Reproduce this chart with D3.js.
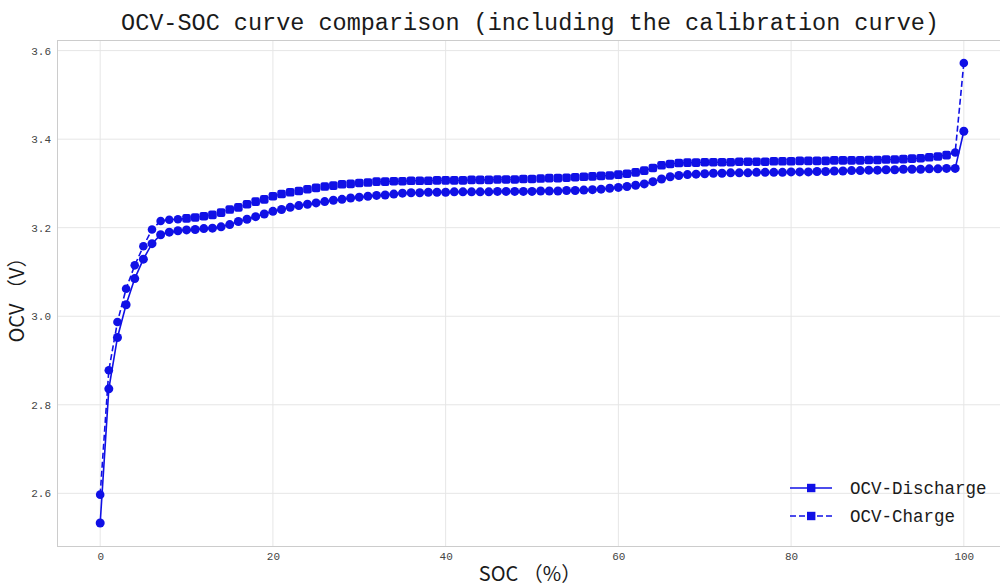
<html>
<head>
	<meta charset="utf-8">
	<title>OCV-SOC curve comparison</title>
</head>

<style>
body{ margin:0; background:#fff; }
.grid line{ stroke:#e6e6e6; stroke-width:1px; }
.spine{ fill:none; stroke:#cccccc; stroke-width:1px; }
.tick text{ font-family:"Liberation Mono","DejaVu Sans Mono",monospace; font-size:11px; fill:#444; }
.title{ font-family:"Liberation Mono","DejaVu Sans Mono",monospace; font-size:23.5px; fill:#1a1a1a; }
.axlabel{ font-family:"Noto Sans CJK SC","Noto Sans",sans-serif; font-size:20px; fill:#1a1a1a; }
.legtext{ font-family:"Liberation Mono","DejaVu Sans Mono",monospace; font-size:17.5px; fill:#1a1a1a; }
</style>

<body>

<script src="https://cdn.jsdelivr.net/npm/d3@7/dist/d3.min.js" charset="utf-8"></script>
<script>

// SOC 0..100, one reading per percent
var soc = d3.range(0, 101);

var ocvDischarge = [
	2.533, 2.836, 2.952, 3.026, 3.085, 3.129, 3.164, 3.184, 3.190, 3.193,
	3.195, 3.196, 3.198, 3.199, 3.202, 3.207, 3.214, 3.219, 3.225, 3.231,
	3.237, 3.241, 3.246, 3.250, 3.253, 3.256, 3.259, 3.262, 3.264, 3.267,
	3.269, 3.271, 3.273, 3.274, 3.276, 3.278, 3.279, 3.279, 3.280, 3.280,
	3.280, 3.281, 3.281, 3.281, 3.281, 3.281, 3.282, 3.282, 3.282, 3.282,
	3.282, 3.283, 3.283, 3.283, 3.284, 3.284, 3.285, 3.286, 3.287, 3.289,
	3.291, 3.293, 3.296, 3.299, 3.304, 3.310, 3.315, 3.318, 3.320, 3.321,
	3.322, 3.323, 3.323, 3.324, 3.324, 3.324, 3.325, 3.325, 3.325, 3.325,
	3.326, 3.326, 3.326, 3.327, 3.327, 3.328, 3.328, 3.329, 3.329, 3.330,
	3.330, 3.331, 3.331, 3.332, 3.332, 3.332, 3.333, 3.333, 3.334, 3.334,
	3.418
];

var ocvCharge = [
	2.597, 2.878, 2.987, 3.062, 3.115, 3.158, 3.196, 3.215, 3.218, 3.219,
	3.221, 3.223, 3.226, 3.229, 3.234, 3.241, 3.246, 3.253, 3.259, 3.264,
	3.271, 3.276, 3.280, 3.283, 3.287, 3.290, 3.293, 3.295, 3.298, 3.299,
	3.301, 3.302, 3.304, 3.304, 3.305, 3.305, 3.306, 3.306, 3.306, 3.307,
	3.307, 3.307, 3.307, 3.308, 3.308, 3.308, 3.309, 3.309, 3.309, 3.310,
	3.310, 3.311, 3.312, 3.312, 3.313, 3.314, 3.315, 3.316, 3.317, 3.318,
	3.320, 3.322, 3.325, 3.329, 3.335, 3.341, 3.344, 3.346, 3.347, 3.347,
	3.348, 3.348, 3.348, 3.348, 3.349, 3.349, 3.349, 3.349, 3.350, 3.350,
	3.350, 3.351, 3.351, 3.351, 3.351, 3.352, 3.352, 3.352, 3.352, 3.353,
	3.353, 3.354, 3.354, 3.355, 3.356, 3.357, 3.359, 3.361, 3.364, 3.370,
	3.572
];

var xTicks = [0, 20, 40, 60, 80, 100];
var yTicks = [2.6, 2.8, 3.0, 3.2, 3.4, 3.6];
var seriesNames = ["OCV-Discharge", "OCV-Charge"];

var width = 1000;
var height = 588;
var color = "#1010e6";

var svg = d3.select("body").append("svg")
			.attr("width", width)
			.attr("height", height);

var plot = {left:57, right:1007, top:40, bottom:546};

var x = d3.scaleLinear().domain([-5, 105]).range([plot.left, plot.right]);
var y = d3.scaleLinear().domain([2.481, 3.624]).range([plot.bottom, plot.top]);

// grid
var grid = svg.append("g").attr("class", "grid");
grid.selectAll(".gx").data(xTicks).enter().append("line")
	.attr("x1", function(d){ return x(d); })
	.attr("x2", function(d){ return x(d); })
	.attr("y1", plot.top).attr("y2", plot.bottom);
grid.selectAll(".gy").data(yTicks).enter().append("line")
	.attr("x1", plot.left).attr("x2", plot.right)
	.attr("y1", function(d){ return y(d); })
	.attr("y2", function(d){ return y(d); });

svg.append("rect")
	.attr("class", "spine")
	.attr("x", plot.left + 0.5)
	.attr("y", plot.top + 0.5)
	.attr("width", plot.right - plot.left)
	.attr("height", plot.bottom - plot.top);

// axes (no tick marks, just labels)
var xAxis = svg.append("g")
	.attr("transform", "translate(0," + plot.bottom + ")")
	.call(d3.axisBottom(x).tickValues(xTicks).tickSize(0).tickPadding(6).tickFormat(d3.format("d")));
xAxis.select(".domain").remove();

var yAxis = svg.append("g")
	.attr("transform", "translate(" + plot.left + ",0)")
	.call(d3.axisLeft(y).tickValues(yTicks).tickSize(0).tickPadding(6).tickFormat(d3.format(".1f")));
yAxis.select(".domain").remove();

// data lines
function makeData(vals){
	return soc.map(function(s, i){ return {x:s, y:vals[i]}; });
}
var disData = makeData(ocvDischarge);
var chgData = makeData(ocvCharge);

var line = d3.line()
	.x(function(d){ return x(d.x); })
	.y(function(d){ return y(d.y); });

svg.append("path")
	.datum(disData)
	.attr("d", line)
	.attr("fill", "none")
	.attr("stroke", color)
	.attr("stroke-width", 1.6);

svg.append("path")
	.datum(chgData)
	.attr("d", line)
	.attr("fill", "none")
	.attr("stroke", color)
	.attr("stroke-width", 1.6)
	.attr("stroke-dasharray", "6,3");

// markers: charge squares (round ones on the steep start and the end), discharge circles
svg.append("g").selectAll("rect")
	.data(chgData).enter().append("rect")
	.attr("x", function(d){ return x(d.x) - 4.3; })
	.attr("y", function(d){ return y(d.y) - 4.3; })
	.attr("width", 8.6).attr("height", 8.6)
	.attr("rx", function(d){ return (d.x < 10 || d.x > 98) ? 4.3 : 2.2; })
	.attr("fill", color);

svg.append("g").selectAll("circle")
	.data(disData).enter().append("circle")
	.attr("cx", function(d){ return x(d.x); })
	.attr("cy", function(d){ return y(d.y); })
	.attr("r", 4.5)
	.attr("fill", color);

// title & labels
svg.append("text")
	.attr("class", "title")
	.attr("x", 530).attr("y", 30)
	.attr("text-anchor", "middle")
	.text("OCV-SOC curve comparison (including the calibration curve)");

svg.append("text")
	.attr("class", "axlabel")
	.attr("x", 530).attr("y", 581)
	.attr("text-anchor", "middle")
	.text("SOC （%）");

svg.append("text")
	.attr("class", "axlabel")
	.attr("transform", "translate(24,295) rotate(-90)")
	.attr("text-anchor", "middle")
	.text("OCV （V）");

// legend
var legend = svg.append("g").selectAll("g")
	.data(seriesNames).enter().append("g")
	.attr("transform", function(d, i){ return "translate(790," + (488 + i * 28) + ")"; });

legend.append("line")
	.attr("x1", 0).attr("x2", 42)
	.attr("stroke", color)
	.attr("stroke-width", 1.6)
	.attr("stroke-dasharray", function(d, i){ return i == 1 ? "6,3" : null; });

legend.append("rect")
	.attr("x", 17).attr("y", -4.2)
	.attr("width", 8.4).attr("height", 8.4)
	.attr("fill", color);

legend.append("text")
	.attr("class", "legtext")
	.attr("x", 60).attr("y", 6)
	.text(function(d){ return d; });

</script>
</body>
</html>
